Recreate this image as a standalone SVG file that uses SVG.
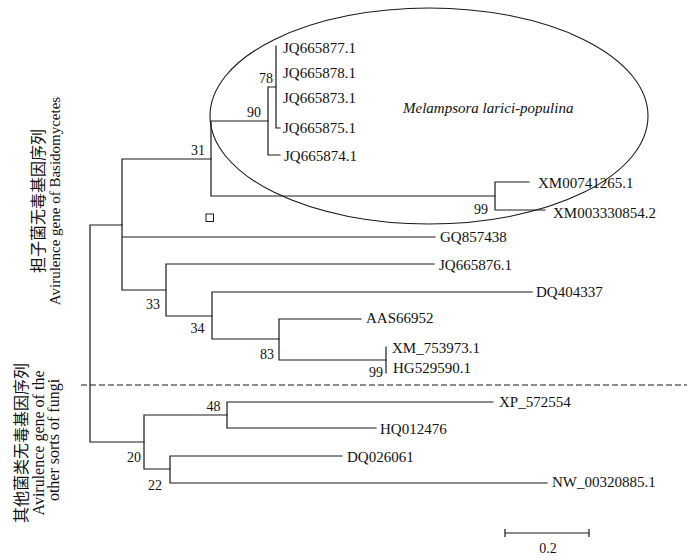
<svg xmlns="http://www.w3.org/2000/svg" width="700" height="560" viewBox="0 0 700 560">
<style>
.br{fill:none;stroke:#1a1a1a;stroke-width:1.2;stroke-linecap:square}
.lf{font-family:"Liberation Serif","Times New Roman",serif;font-size:15px;fill:#111}
.bs{font-family:"Liberation Serif","Times New Roman",serif;font-size:14px;fill:#111;text-anchor:middle}
.cn{font-family:"Liberation Serif","Noto Sans CJK SC",serif;font-size:16px;fill:#111;text-anchor:middle}
.en{font-family:"Liberation Serif","Times New Roman",serif;fill:#111;text-anchor:middle}
</style>
<rect width="700" height="560" fill="#fff"/>
<g id="clade-ellipse">
<ellipse cx="429" cy="116" rx="219" ry="108" fill="none" stroke="#1a1a1a" stroke-width="1.1"/>
<text x="403" y="113" class="lf" font-style="italic">Melampsora larici-populina</text>
</g>
<g id="connectors">
<path class="br" d="M90,225 V442 M90,225 H122 M90,442 H144"/>
<path class="br" d="M122,159 V290 M122,159 H211 M122,237 H435 M122,290 H166"/>
<path class="br" d="M211,121 V196 M211,121 H268 M211,196 H495"/>
<path class="br" d="M268,87 V155 M268,87 H276 M268,155 H280"/>
<path class="br" d="M276,46 V128 H280"/>
<path class="br" d="M495,182 V210 M495,182 H529 M495,210 H545"/>
<path class="br" d="M166,264 V316 M166,264 H434 M166,316 H212"/>
<path class="br" d="M212,292 V339 M212,292 H532 M212,339 H279"/>
<path class="br" d="M279,319 V360 M279,319 H361 M279,360 H386"/>
<path class="br" d="M386,347 V373"/>
<path class="br" d="M144,415 V469 M144,415 H227 M144,469 H170"/>
<path class="br" d="M227,402 V428 M227,402 H493 M227,428 H376"/>
<path class="br" d="M170,456 V483 M170,456 H342 M170,483 H547"/>
</g>
<g id="divider">
<line x1="81" y1="385" x2="687" y2="385" stroke="#1a1a1a" stroke-width="1.1" stroke-dasharray="6 3"/>
</g>
<g id="marker-square">
<rect x="206" y="214" width="7.5" height="7.5" fill="none" stroke="#1a1a1a" stroke-width="1"/>
</g>
<g id="leaves">
<g id="leaf-JQ665877"><text x="283" y="53" class="lf">JQ665877.1</text></g>
<g id="leaf-JQ665878"><text x="283" y="78" class="lf">JQ665878.1</text></g>
<g id="leaf-JQ665873"><text x="283" y="103" class="lf">JQ665873.1</text></g>
<g id="leaf-JQ665875"><text x="283" y="133" class="lf">JQ665875.1</text></g>
<g id="leaf-JQ665874"><text x="284" y="161" class="lf">JQ665874.1</text></g>
<g id="leaf-XM00741265"><text x="538" y="188" class="lf">XM00741265.1</text></g>
<g id="leaf-XM003330854"><text x="553" y="218" class="lf">XM003330854.2</text></g>
<g id="leaf-GQ857438"><text x="440" y="242" class="lf">GQ857438</text></g>
<g id="leaf-JQ665876"><text x="439" y="270" class="lf">JQ665876.1</text></g>
<g id="leaf-DQ404337"><text x="536" y="297" class="lf">DQ404337</text></g>
<g id="leaf-AAS66952"><text x="366" y="323" class="lf">AAS66952</text></g>
<g id="leaf-XM_753973"><text x="392" y="353" class="lf">XM_753973.1</text></g>
<g id="leaf-HG529590"><text x="393" y="373" class="lf">HG529590.1</text></g>
<g id="leaf-XP_572554"><text x="499" y="407" class="lf">XP_572554</text></g>
<g id="leaf-HQ012476"><text x="380" y="434" class="lf">HQ012476</text></g>
<g id="leaf-DQ026061"><text x="347" y="462" class="lf">DQ026061</text></g>
<g id="leaf-NW_00320885"><text x="552" y="487" class="lf">NW_00320885.1</text></g>
</g>
<g id="bootstrap">
<text x="266" y="83" class="bs">78</text>
<text x="254" y="117" class="bs">90</text>
<text x="198" y="155" class="bs">31</text>
<text x="481" y="213.5" class="bs">99</text>
<text x="153" y="309" class="bs">33</text>
<text x="197.5" y="333" class="bs">34</text>
<text x="267" y="359" class="bs">83</text>
<text x="376" y="377" class="bs">99</text>
<text x="213.5" y="411" class="bs">48</text>
<text x="134" y="461.5" class="bs">20</text>
<text x="155" y="489.5" class="bs">22</text>
</g>
<g id="group-basidiomycetes">
<text class="cn" transform="translate(44,201) rotate(-90)">担子菌无毒基因序列</text>
<text class="en" font-size="15" transform="translate(60,201) rotate(-90)">Avirulence gene of Basidomycetes</text>
</g>
<g id="group-other-fungi">
<text class="cn" transform="translate(27,443) rotate(-90)">其他菌类无毒基因序列</text>
<text class="en" font-size="16" transform="translate(44,443) rotate(-90)">Avirulence gene of the</text>
<text class="en" font-size="16" transform="translate(59,440) rotate(-90)">other sorts of fungi</text>
</g>
<g id="scale-bar">
<path class="br" d="M505,533 H589 M505,529.5 V536.5 M589,529.5 V536.5"/>
<text x="548" y="553" class="bs">0.2</text>
</g>
</svg>
